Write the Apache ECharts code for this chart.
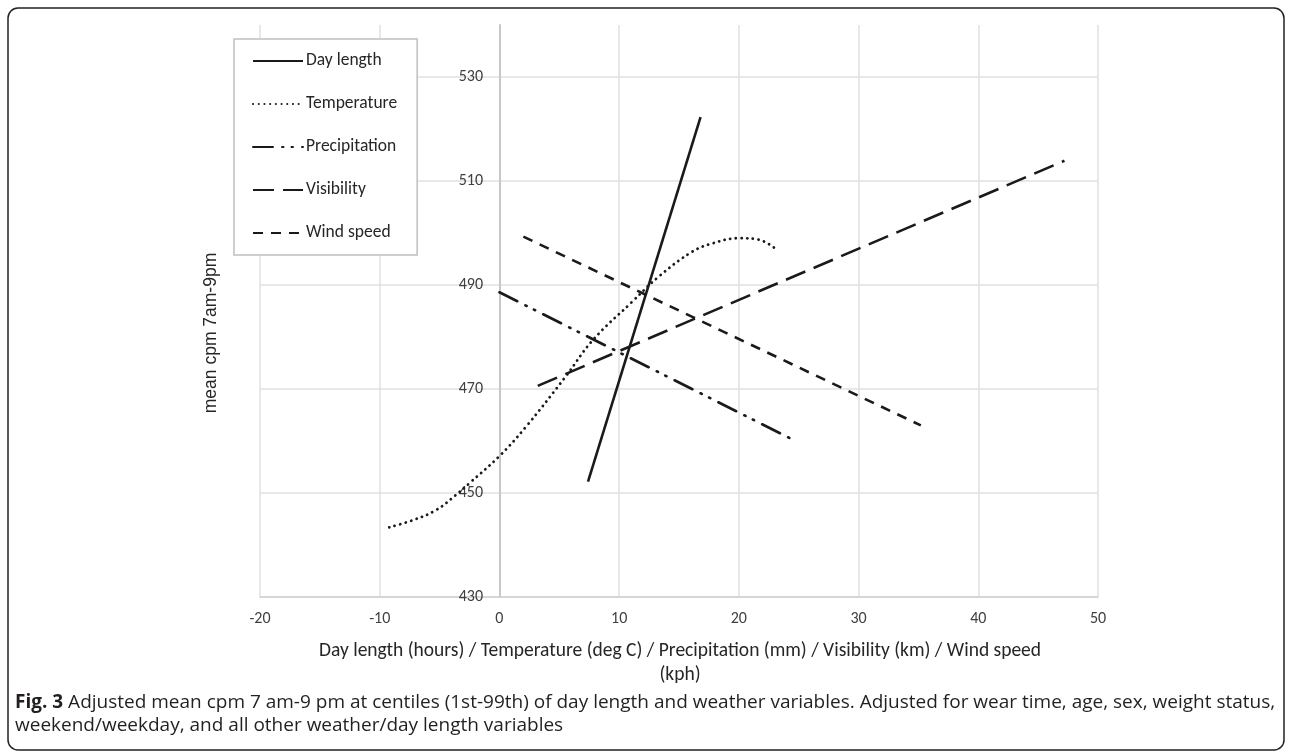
<!DOCTYPE html>
<html>
<head>
<meta charset="utf-8">
<script src="https://cdn.jsdelivr.net/npm/echarts@6/dist/echarts.min.js"></script>
<style>
html,body{margin:0;padding:0;background:#fff;}
#chart{width:1292px;height:755px;}
</style>
</head>
<body>
<div id="chart"></div>
<script>
// ---- data ----
const seriesNames = ['Day length', 'Temperature', 'Precipitation', 'Visibility', 'Wind speed'];
const dayLength = [[7.4, 452.2], [16.8, 522.3]];
const temperature = [[-9.2, 443.4], [-7.2, 444.8], [-5.3, 446.7], [-3.7, 449.5], [-2.5, 451.9], [0, 457.1], [2.2, 462.7], [5.5, 472.3], [7.8, 479.4], [11.1, 486.8], [13.3, 491.6], [16.1, 496.4], [17.8, 498.0], [20.0, 499.0], [21.7, 498.7], [23.1, 496.9]];
const precipitation = [[0, 488.6], [24.3, 460.5]];
const visibility = [[3.2, 470.6], [47.2, 513.9]];
const windSpeed = [[2.0, 499.3], [35.2, 463.0]];
const xTicks = {min: -20, max: 50, interval: 10};
const yTicks = {min: 430, max: 540, interval: 20};
const xTitle = 'Day length (hours) / Temperature (deg C) / Precipitation (mm) / Visibility (km) / Wind speed\n(kph)';
const yTitle = 'mean cpm 7am-9pm';
const captionBold = 'Fig. 3';
const captionLine1 = ' Adjusted mean cpm 7 am-9 pm at centiles (1st-99th) of day length and weather variables. Adjusted for wear time, age, sex, weight status,';
const captionLine2 = 'weekend/weekday, and all other weather/day length variables';

const chartFont = 'Carlito, Lato, "Open Sans", sans-serif';
const captionFont = '"Open Sans", "Noto Sans", sans-serif';
const lineColor = '#1a1a1a';

const chart = echarts.init(document.getElementById('chart'), null, {renderer: 'canvas'});

function mkLine(name, data, type, extra) {
  return Object.assign({
    name: name,
    type: 'line',
    data: data,
    symbol: 'none',
    showSymbol: false,
    animation: false,
    lineStyle: {color: lineColor, width: 2.6, type: type, cap: 'butt'},
    itemStyle: {color: lineColor}
  }, extra || {});
}

const option = {
  animation: false,
  backgroundColor: '#fff',
  grid: {left: 260, right: 194, top: 25, bottom: 158, containLabel: false},
  xAxis: {
    type: 'value',
    min: xTicks.min, max: xTicks.max, interval: xTicks.interval,
    axisLine: {show: true, onZero: false, lineStyle: {color: '#d0d0d0', width: 1.5}},
    axisTick: {show: false},
    axisLabel: {color: '#404040', fontFamily: chartFont, fontSize: 16, margin: 14},
    splitLine: {show: true, lineStyle: {color: '#e0e0e0', width: 1.5}}
  },
  yAxis: {
    type: 'value',
    min: yTicks.min, max: yTicks.max, interval: yTicks.interval,
    offset: -240,
    axisLine: {show: true, onZero: false, lineStyle: {color: '#c8c8c8', width: 2}},
    axisTick: {show: false},
    axisLabel: {color: '#404040', fontFamily: chartFont, fontSize: 16, margin: 17,
      formatter: function (v) { return (v - yTicks.min) % yTicks.interval === 0 ? String(v) : ''; }},
    splitLine: {show: true, lineStyle: {color: ['#e0e0e0', '#e0e0e0', '#e0e0e0', '#e0e0e0', '#e0e0e0', '#e0e0e0', 'rgba(0,0,0,0)'], width: 1.5}}
  },
  legend: {
    show: true,
    orient: 'vertical',
    left: 234, top: 39,
    padding: [13, 20, 13, 18],
    itemWidth: 50, itemHeight: 14, itemGap: 25,
    backgroundColor: '#fff',
    borderColor: '#c0c0c0', borderWidth: 1.5,
    itemStyle: {opacity: 0},
    textStyle: {color: '#262626', fontFamily: chartFont, fontSize: 17.5, padding: [0, 0, 0, -2]},
    data: seriesNames
  },
  series: [
    mkLine(seriesNames[0], dayLength, 'solid'),
    mkLine(seriesNames[1], temperature, [0.1, 5.6], {smooth: 0.4, lineStyle: {color: lineColor, width: 2.8, type: [0.1, 5.6], cap: 'round'}}),
    mkLine(seriesNames[2], precipitation, [22, 9, 1, 9, 1, 9], {lineStyle: {color: lineColor, width: 2.6, type: [20, 9, 1.5, 8, 1.5, 9], cap: 'round'}}),
    mkLine(seriesNames[3], visibility, [21, 9]),
    mkLine(seriesNames[4], windSpeed, [10, 8])
  ],
  graphic: [
    {type: 'rect', silent: true, z: -10,
     shape: {x: 8, y: 8, width: 1276, height: 742, r: 10},
     style: {fill: 'none', stroke: '#222', lineWidth: 1.5}},
    {type: 'text', silent: true,
     x: 211, y: 333, rotation: Math.PI / 2,
     style: {text: yTitle, fill: '#262626', font: '17.5px "Liberation Sans", Arial, sans-serif', align: 'center', verticalAlign: 'middle'}},
    {type: 'text', silent: true,
     x: 680, y: 639,
     style: {text: xTitle, fill: '#262626', font: '19.5px ' + chartFont, align: 'center', verticalAlign: 'top', lineHeight: 24}},
    {type: 'text', silent: true,
     x: 15, y: 691,
     style: {
       text: '{b|' + captionBold + '}{r|' + captionLine1 + '}\n{r|' + captionLine2 + '}',
       verticalAlign: 'top',
       rich: {
         b: {fontWeight: 'bold', fontSize: 19, fontFamily: captionFont, fill: '#231f20', lineHeight: 23},
         r: {fontSize: 19, fontFamily: captionFont, fill: '#231f20', lineHeight: 23}
       }
     }}
  ]
};
chart.setOption(option);
</script>
</body>
</html>
